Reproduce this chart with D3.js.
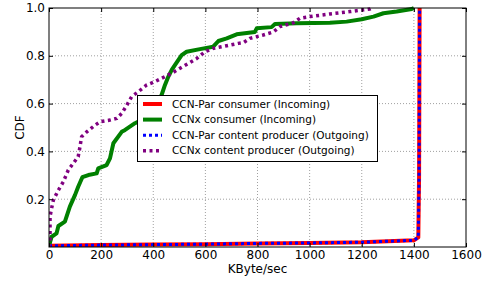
<!DOCTYPE html>
<html><head><meta charset="utf-8">
<script src="https://cdn.jsdelivr.net/npm/d3@7"></script>
<style>body{margin:0;background:#fff}svg{display:block}text{font-family:"DejaVu Sans",sans-serif}</style>
</head><body><svg id="c" width="493" height="281"></svg>
<script>
const xTicks = [0,200,400,600,800,1000,1200,1400,1600];
const yTicks = [0.2,0.4,0.6,0.8,1.0];
const seriesNames = ["CCN-Par consumer (Incoming)","CCNx consumer (Incoming)","CCN-Par content producer (Outgoing)","CCNx content producer (Outgoing)"];
const parConsumer = [[0,0.005],[200,0.008],[400,0.01],[600,0.012],[800,0.015],[1000,0.017],[1200,0.02],[1400,0.028],[1417,0.04],[1420,0.3],[1422,1.0]];
const ccnxConsumer = [[0,0.0],[4,0.02],[10,0.043],[29,0.057],[36,0.088],[61,0.106],[80,0.169],[100,0.218],[112,0.252],[128,0.292],[151,0.301],[183,0.308],[189,0.329],[221,0.343],[234,0.371],[247,0.434],[279,0.482],[292,0.49],[330,0.518],[368,0.538],[400,0.575],[420,0.61],[432,0.636],[445,0.678],[458,0.713],[471,0.741],[483,0.761],[496,0.782],[509,0.803],[528,0.817],[579,0.828],[630,0.838],[650,0.862],[682,0.873],[720,0.89],[790,0.9],[797,0.915],[854,0.92],[867,0.933],[950,0.936],[1078,0.938],[1142,0.943],[1200,0.953],[1245,0.964],[1283,0.978],[1334,0.985],[1392,0.996],[1400,1.0]];
const parProducer = [[0,0.005],[200,0.008],[400,0.01],[600,0.012],[800,0.015],[1000,0.017],[1200,0.02],[1400,0.028],[1417,0.04],[1420,0.3],[1422,1.0]];
const ccnxProducer = [[0,0.0],[4,0.03],[4,0.127],[10,0.162],[17,0.197],[36,0.238],[55,0.273],[74,0.322],[93,0.35],[112,0.378],[119,0.42],[125,0.461],[145,0.482],[177,0.51],[196,0.524],[234,0.531],[260,0.538],[279,0.559],[298,0.592],[317,0.629],[343,0.65],[375,0.678],[407,0.692],[432,0.706],[471,0.727],[503,0.748],[535,0.768],[567,0.789],[599,0.817],[630,0.831],[682,0.842],[726,0.852],[746,0.855],[771,0.873],[822,0.887],[861,0.9],[886,0.922],[937,0.938],[963,0.957],[1002,0.964],[1078,0.975],[1155,0.985],[1232,0.996],[1240,1.0]];

const svg = d3.select("#c");
const m = {l:49, r:466, t:8, b:247};
const x = d3.scaleLinear().domain([0,1600]).range([m.l,m.r]);
const y = d3.scaleLinear().domain([0,1]).range([m.b,m.t]);

// grid
const g = svg.append("g");
g.selectAll(".gx").data(xTicks.slice(1,-1)).join("line")
  .attr("x1",d=>x(d)).attr("x2",d=>x(d)).attr("y1",m.t).attr("y2",m.b)
  .attr("stroke","#888").attr("stroke-width",0.8).attr("stroke-dasharray","1,2");
g.selectAll(".gy").data(yTicks.slice(0,-1)).join("line")
  .attr("y1",d=>y(d)).attr("y2",d=>y(d)).attr("x1",m.l).attr("x2",m.r)
  .attr("stroke","#888").attr("stroke-width",0.8).attr("stroke-dasharray","1,2");

// lines
const line = d3.line().x(d=>x(d[0])).y(d=>y(d[1]));
const styles = [
  {data:parConsumer, color:"#ff0000", w:4, dash:null},
  {data:ccnxConsumer, color:"#008000", w:4, dash:null},
  {data:parProducer, color:"#0000ff", w:3, dash:"3,3"},
  {data:ccnxProducer, color:"#800080", w:3.5, dash:"3,3.5"}
];
svg.append("defs").append("clipPath").attr("id","cp").append("rect")
  .attr("x",m.l).attr("y",m.t-2).attr("width",m.r-m.l).attr("height",m.b-m.t+2);
styles.forEach(s=>{
  svg.append("path").datum(s.data).attr("d",line).attr("fill","none")
    .attr("stroke",s.color).attr("stroke-width",s.w)
    .attr("stroke-dasharray",s.dash).attr("stroke-linejoin","round")
    .attr("clip-path","url(#cp)");
});

// axes
const fs = "12px";
const ax = svg.append("g").attr("transform",`translate(0,${m.b})`)
  .call(d3.axisBottom(x).tickValues(xTicks).tickSize(-4).tickPadding(3).tickFormat(d3.format("d")));
const axT = svg.append("g").attr("transform",`translate(0,${m.t})`)
  .call(d3.axisTop(x).tickValues(xTicks).tickSize(-4).tickFormat(""));
const ay = svg.append("g").attr("transform",`translate(${m.l},0)`)
  .call(d3.axisLeft(y).tickValues(yTicks).tickSize(-4).tickPadding(4).tickFormat(d3.format(".1f")));
const ayR = svg.append("g").attr("transform",`translate(${m.r},0)`)
  .call(d3.axisRight(y).tickValues(yTicks).tickSize(-4).tickFormat(""));
[ax,axT,ay,ayR].forEach(a=>{
  a.selectAll("text").attr("font-size",fs).attr("fill","#000").attr("font-family","DejaVu Sans");
  a.select(".domain").remove();
  a.selectAll(".tick line").attr("stroke","#000");
});
svg.append("rect").attr("x",m.l).attr("y",m.t).attr("width",m.r-m.l).attr("height",m.b-m.t)
  .attr("fill","none").attr("stroke","#000").attr("stroke-width",1);

svg.append("text").attr("x",(m.l+m.r)/2).attr("y",273).attr("text-anchor","middle")
  .attr("font-size",fs).text("KByte/sec");
svg.append("text").attr("transform",`translate(24,${(m.t+m.b)/2}) rotate(-90)`)
  .attr("text-anchor","middle").attr("font-size",fs).text("CDF");

// legend
const lg = svg.append("g");
lg.append("rect").attr("x",137.5).attr("y",95.5).attr("width",240).attr("height",66)
  .attr("fill","#fff").attr("stroke","#000").attr("stroke-width",1);
seriesNames.forEach((n,i)=>{
  const yy = 104 + i*15.6;
  const s = styles[i];
  lg.append("line").attr("x1",143).attr("x2",162).attr("y1",yy).attr("y2",yy)
    .attr("stroke",s.color).attr("stroke-width",s.w).attr("stroke-dasharray",s.dash);
  lg.append("text").attr("x",172).attr("y",yy).attr("dy","0.35em").attr("font-size","10.5px").text(n);
});
</script></body></html>
